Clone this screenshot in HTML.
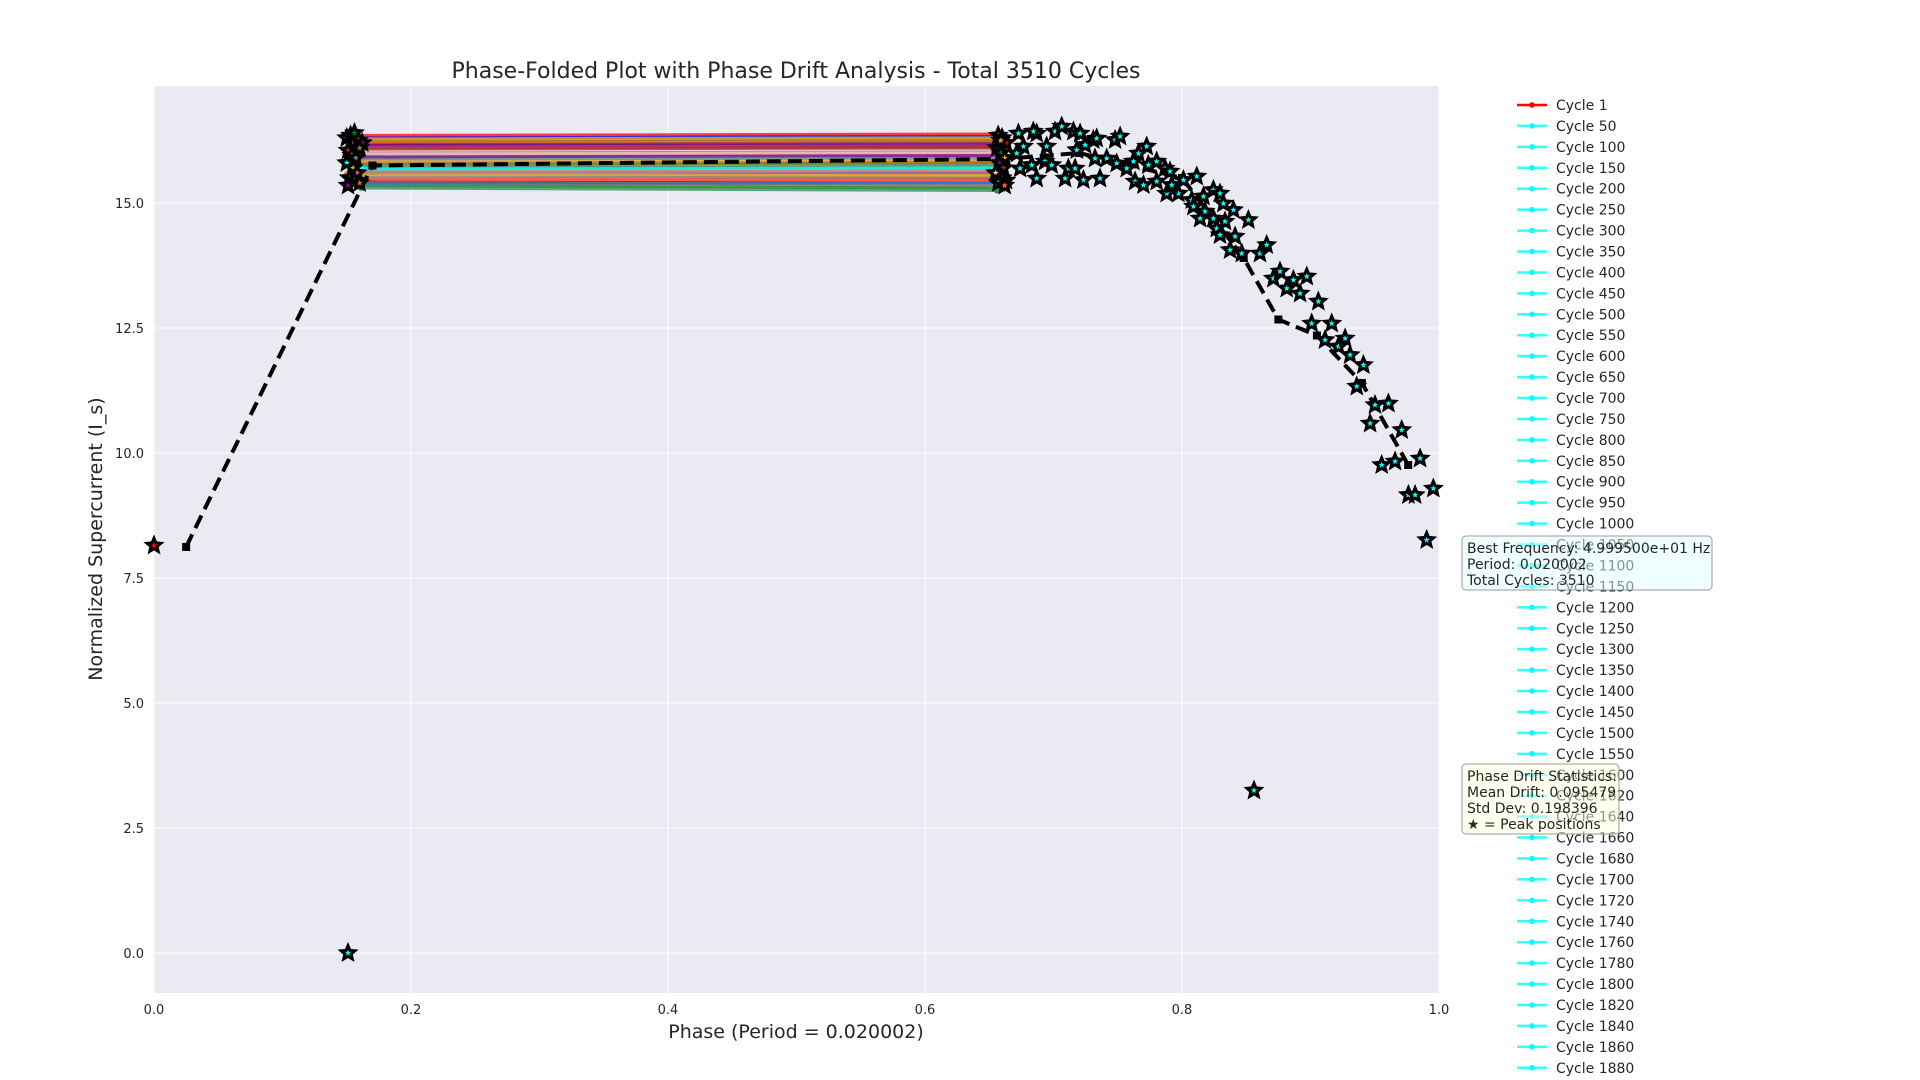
<!DOCTYPE html>
<html><head><meta charset="utf-8"><style>
html,body{margin:0;padding:0;background:#fff;width:1920px;height:1080px;overflow:hidden;font-family:"Liberation Sans","DejaVu Sans",sans-serif;}
svg text{font-family:"DejaVu Sans","Liberation Sans",sans-serif;fill:#262626;}
</style></head><body>
<svg id="chart" width="1920" height="1080" xmlns="http://www.w3.org/2000/svg">
<rect x="154" y="86" width="1285" height="907" fill="#eaeaf2"/>
<g id="grid"></g><g id="cycles"></g><g id="meanline"></g><g id="stars"></g><g id="axes"></g><g id="legend"></g>
<text x="796" y="78" text-anchor="middle" font-size="22">Phase-Folded Plot with Phase Drift Analysis - Total 3510 Cycles</text>
<text x="796" y="1038" text-anchor="middle" font-size="19">Phase (Period = 0.020002)</text>
<text transform="translate(102,539) rotate(-90)" text-anchor="middle" font-size="19">Normalized Supercurrent (I_s)</text>
</svg>
<script>
const xTicks=[0,0.2,0.4,0.6,0.8,1.0];
const xTickLabels=["0.0","0.2","0.4","0.6","0.8","1.0"];
const yTicks=[0,2.5,5,7.5,10,12.5,15];
const yTickLabels=["0.0","2.5","5.0","7.5","10.0","12.5","15.0"];
const cycleStartPhase=[0.150,0.152,0.155,0.158,0.160,0.162,0.151,0.153,0.156,0.159,0.161,0.150,0.154,0.157,0.160,0.163,0.152,0.155,0.158,0.161,0.151,0.154,0.157,0.160,0.153,0.156,0.159,0.162,0.150,0.155,0.158,0.161,0.152,0.156,0.160,0.153];
const cycleStartVal=[16.35,16.30,16.25,16.20,16.15,16.10,16.05,16.00,15.95,15.90,15.85,15.80,15.75,15.70,15.65,15.60,15.55,15.50,15.45,15.40,15.35,16.28,16.18,16.08,15.98,15.88,15.78,15.68,15.58,15.48,15.38,15.30,16.22,15.92,15.62,15.42];
const cycleEndPhase=[0.657,0.660,0.662,0.655,0.658,0.661,0.664,0.656,0.659,0.662,0.657,0.660,0.663,0.655,0.658,0.661,0.656,0.659,0.662,0.657,0.660,0.658,0.661,0.656,0.659,0.662,0.657,0.660,0.655,0.658,0.661,0.656,0.659,0.662,0.657,0.660];
const cycleEndVal=[16.38,16.33,16.27,16.22,16.16,16.12,16.06,16.02,15.97,15.92,15.86,15.82,15.77,15.72,15.66,15.60,15.56,15.51,15.46,15.41,15.30,16.30,16.20,16.10,16.00,15.90,15.80,15.70,15.55,15.45,15.40,15.25,16.25,15.95,15.64,15.35];
const meanPhase=[0.025,0.17,0.66,0.72,0.80,0.848,0.875,0.905,0.94,0.976];
const meanVal=[8.12,15.75,15.88,16.0,15.5,13.9,12.67,12.35,11.4,9.76];
const peakPhase=[0.0,0.151,0.856,0.6727,0.6869,0.6843,0.7012,0.7064,0.7155,0.7207,0.7310,0.7336,0.7479,0.7518,0.7725,0.7661,0.6766,0.6947,0.6714,0.7181,0.7246,0.7323,0.7414,0.7492,0.7622,0.7570,0.7738,0.7803,0.7868,0.7907,0.6740,0.6831,0.6934,0.6986,0.7116,0.7168,0.6869,0.7090,0.7233,0.7362,0.7635,0.7700,0.7803,0.7881,0.7972,0.7920,0.8011,0.8115,0.8076,0.8167,0.8244,0.8296,0.8089,0.8179,0.8141,0.8244,0.8335,0.8322,0.8400,0.8517,0.8270,0.8296,0.8413,0.8374,0.8465,0.8607,0.8659,0.8711,0.8763,0.8867,0.8815,0.8919,0.8971,0.9061,0.9009,0.9165,0.9113,0.9217,0.9269,0.9308,0.9412,0.9360,0.9502,0.9606,0.9464,0.9710,0.9554,0.9658,0.9853,0.9762,0.9814,0.9956,0.9904];
const peakVal=[8.15,0.0,3.25,16.39,16.39,16.43,16.43,16.53,16.43,16.39,16.26,16.29,16.26,16.33,16.13,15.99,16.13,16.13,15.99,16.06,16.16,15.89,15.89,15.79,15.83,15.69,15.76,15.83,15.69,15.63,15.69,15.76,15.83,15.76,15.69,15.69,15.49,15.49,15.46,15.49,15.43,15.36,15.43,15.19,15.19,15.36,15.46,15.53,15.06,15.13,15.26,15.19,14.93,14.83,14.69,14.69,14.63,14.99,14.86,14.66,14.49,14.36,14.33,14.06,13.99,13.99,14.16,13.49,13.63,13.46,13.29,13.19,13.53,13.03,12.59,12.59,12.26,12.13,12.29,11.96,11.76,11.33,10.96,10.99,10.59,10.46,9.76,9.83,9.89,9.16,9.16,9.29,8.26];
const clusterPhase=[0.150,0.153,0.156,0.159,0.162,0.151,0.154,0.157,0.160,0.150,0.155,0.158,0.152,0.156,0.160,0.151,0.657,0.660,0.663,0.656,0.659,0.662,0.658,0.661,0.655,0.660,0.663,0.657,0.659,0.662];
const clusterVal=[16.30,16.35,16.40,16.25,16.20,16.05,15.95,15.90,16.10,15.80,15.70,15.60,15.50,15.45,15.40,15.35,16.35,16.30,16.20,16.10,16.00,15.90,15.80,15.70,15.60,15.50,15.45,15.40,16.25,15.35];
const legendLabels=["Cycle 1"];
for(let c=50;c<=1600;c+=50)legendLabels.push("Cycle "+c);
for(let c=1620;c<=1880;c+=20)legendLabels.push("Cycle "+c);

const NS="http://www.w3.org/2000/svg";
const X0=154,X1=1439,Y0=993,Y1=86,YMIN=-0.8,YMAX=17.34;
function sx(v){return X0+(v-0)/(1-0)*(X1-X0);}
function sy(v){return Y0-(v-YMIN)/(YMAX-YMIN)*(Y0-Y1);}
function mk(tag,attrs,parent){const e=document.createElementNS(NS,tag);for(const k in attrs)e.setAttribute(k,attrs[k]);parent.appendChild(e);return e;}
const grid=document.getElementById('grid'),axes=document.getElementById('axes');
xTicks.forEach((t,i)=>{
 const l=mk('line',{x1:sx(t),x2:sx(t),y1:Y1,y2:Y0,stroke:'#fff','stroke-width':1},grid);
 
 
 const tx=mk('text',{x:sx(t),y:1014,'text-anchor':'middle','font-size':13},axes);tx.textContent=xTickLabels[i];
 
 
});
yTicks.forEach((t,i)=>{
 const l=mk('line',{x1:X0,x2:X1,y1:sy(t),y2:sy(t),stroke:'#fff','stroke-width':1},grid);
 
 
 const tx=mk('text',{x:144,y:sy(t)+5,'text-anchor':'end','font-size':13},axes);tx.textContent=yTickLabels[i];
 
 
});
const colors=['#ff0000','#0000ff','#008000','#ffa500','#800080','#a52a2a','#ffc0cb','#808080','#808000','#00ffff','#daa520','#ff6347','#4682b4','#2e8b57','#d2691e','#8b008b','#bc8f8f','#696969'];
const cyc=document.getElementById('cycles');
cycleStartVal.forEach((v,i)=>{
 const c=colors[i%colors.length];
 const l=mk('line',{x1:sx(cycleStartPhase[i]),y1:sy(v),x2:sx(cycleEndPhase[i]),y2:sy(cycleEndVal[i]),stroke:c,'stroke-width':3,'stroke-opacity':0.75},cyc);
 
 
 [[cycleStartPhase[i],v],[cycleEndPhase[i],cycleEndVal[i]]].forEach(p=>{
  const d=mk('circle',{cx:sx(p[0]),cy:sy(p[1]),r:3,fill:c},cyc);
  
  
 });
});
const ml=document.getElementById('meanline');
const pl=mk('polyline',{points:meanPhase.map((p,i)=>sx(p)+','+sy(meanVal[i])).join(' '),fill:'none',stroke:'#000','stroke-width':4,'stroke-dasharray':'14,7'},ml);


meanPhase.forEach((p,i)=>{
 const r=mk('rect',{x:sx(p)-4,y:sy(meanVal[i])-4,width:8,height:8,fill:'#000'},ml);
 
 
});
function starPts(cx,cy,R){const r=R*0.45;let s=[];for(let k=0;k<10;k++){const a=-Math.PI/2+k*Math.PI/5;const rr=k%2?r:R;s.push((cx+rr*Math.cos(a)).toFixed(1)+','+(cy+rr*Math.sin(a)).toFixed(1));}return s.join(' ');}
const st=document.getElementById('stars');
function drawStar(p,v,fill,name){
 const g=mk('g',{},st);
 
 
 mk('polygon',{points:starPts(sx(p),sy(v),8.5),fill:'#000',stroke:'#000','stroke-width':2,'stroke-linejoin':'miter'},g);
 mk('polygon',{points:starPts(sx(p),sy(v),3.2),fill:fill},g);
}
clusterPhase.forEach((p,i)=>drawStar(p,clusterVal[i],colors[i%colors.length],'cluster-peak-star'));
peakPhase.forEach((p,i)=>drawStar(p,peakVal[i],i===0?'#ff0000':'#00ffff','peak-star'));
const lg=document.getElementById('legend');
legendLabels.forEach((lab,i)=>{
 const y=105+i*20.93;const c=i===0?'#ff0000':'#00ffff';
 const g=mk('g',{},lg);
 
 
 mk('line',{x1:1517,x2:1547,y1:y,y2:y,stroke:c,'stroke-width':2.5,'stroke-opacity':i===0?1:0.8},g);
 mk('circle',{cx:1532,cy:y,r:2.8,fill:c},g);
 const t=mk('text',{x:1556,y:y+5,'font-size':14},g);t.textContent=lab;
});
function box(x,y,w,h,fill,lines,name){
 const g=mk('g',{},document.getElementById('chart'));
 
 
 mk('rect',{x:x,y:y,width:w,height:h,rx:4,fill:fill,'fill-opacity':0.5,stroke:'#999','stroke-width':1},g);
 lines.forEach((s,i)=>{const t=mk('text',{x:x+5,y:y+17+i*16,'font-size':14},g);t.textContent=s;});
}
box(1462,536,250,54,'#e0ffff',['Best Frequency: 4.999500e+01 Hz','Period: 0.020002','Total Cycles: 3510'],'frequency-info-box');
box(1462,764,157,70,'#ffffe0',['Phase Drift Statistics:','Mean Drift: 0.095479','Std Dev: 0.198396','★ = Peak positions'],'drift-stats-box');
</script>
</body></html>
